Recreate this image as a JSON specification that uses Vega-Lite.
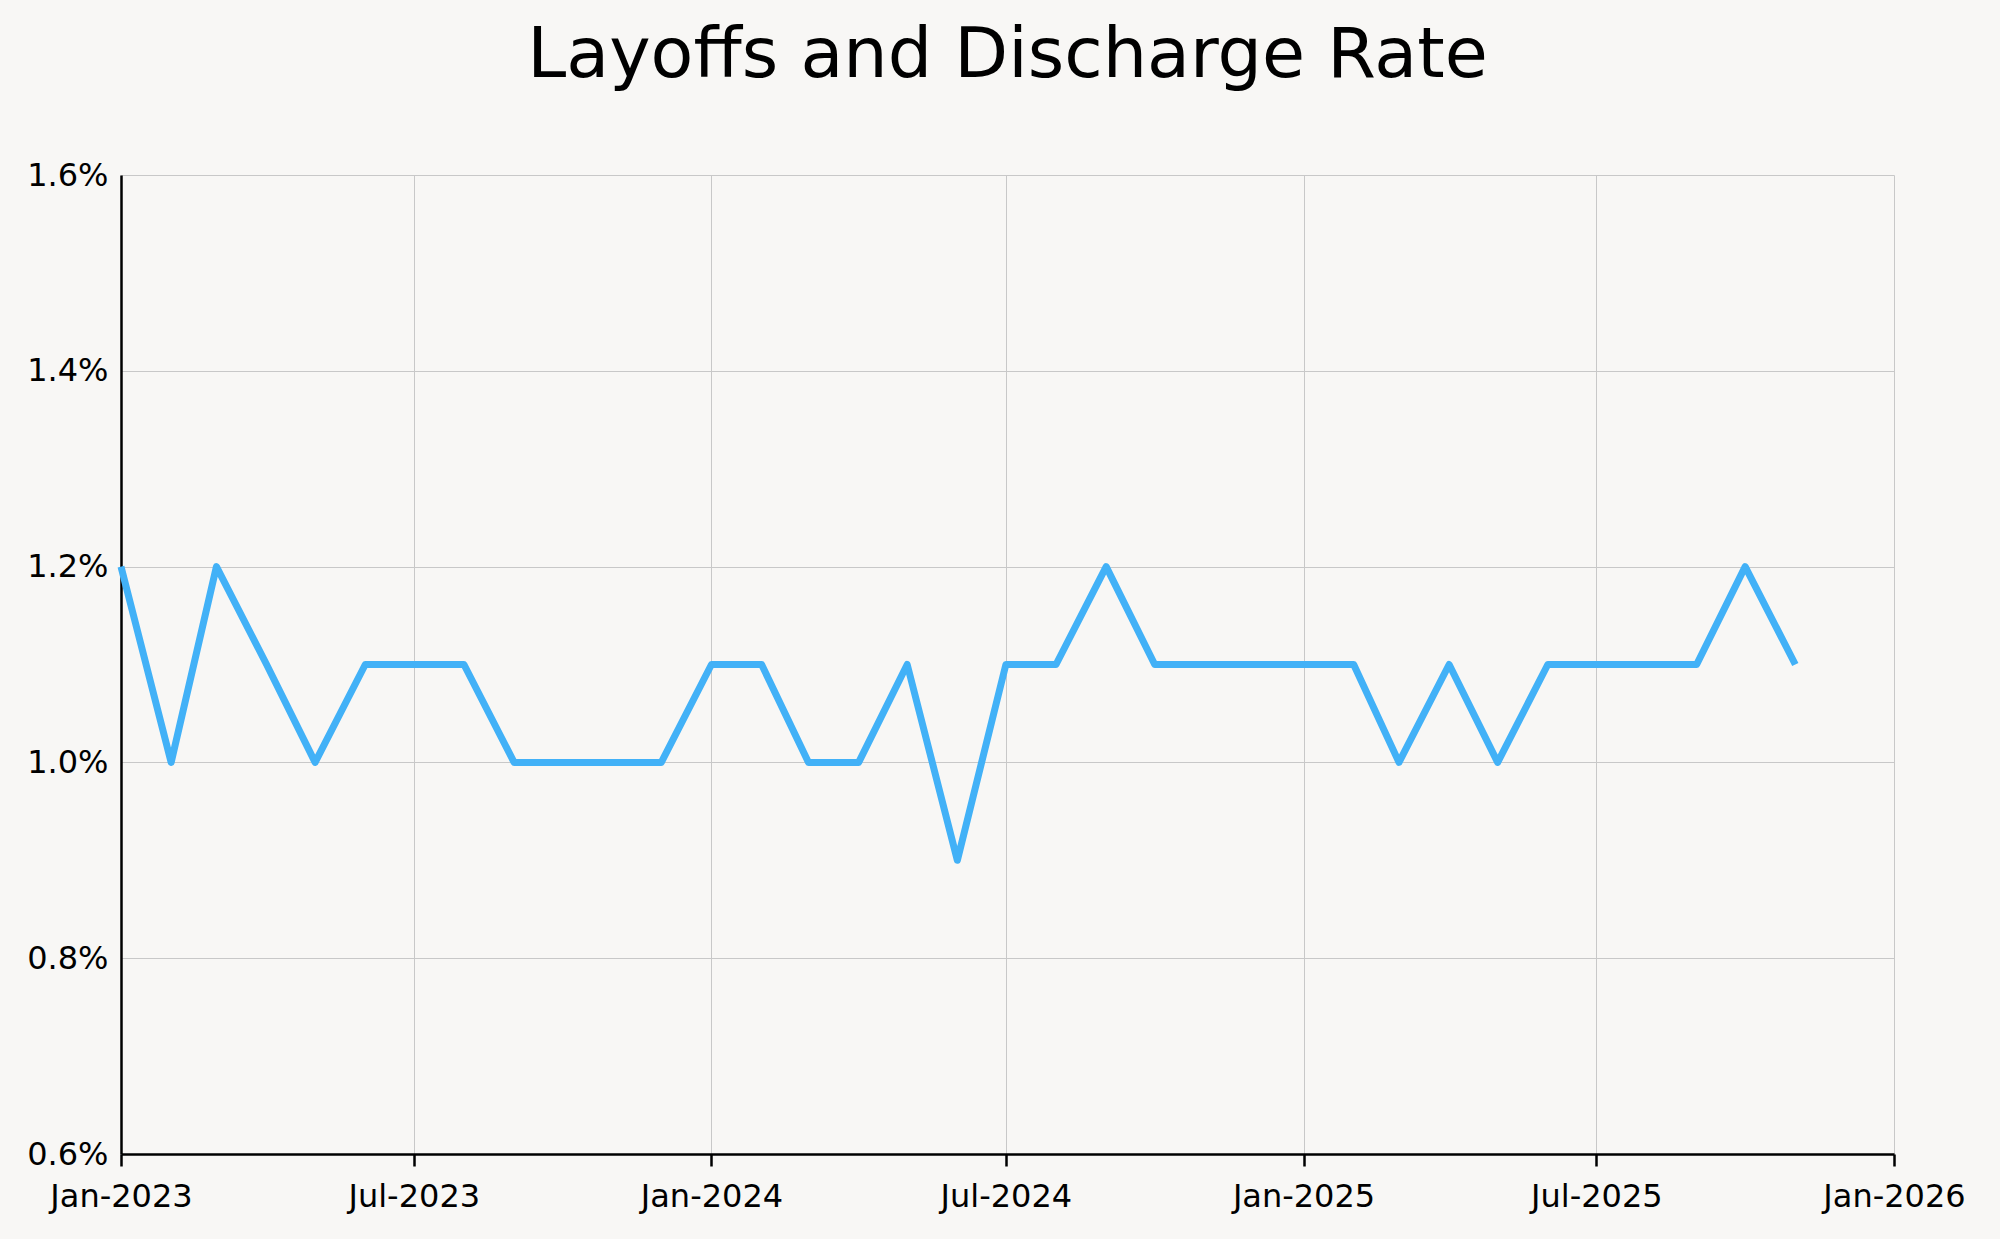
{
  "$schema": "https://vega.github.io/schema/vega-lite/v6.json",
  "autosize": "none",
  "width": 1773,
  "height": 979,
  "padding": {"left": 121, "top": 175, "right": 106, "bottom": 85},
  "background": "#f8f7f5",
  "title": {
    "text": "Layoffs and Discharge Rate",
    "font": "DejaVu Sans",
    "fontSize": 70,
    "fontWeight": "normal",
    "color": "#000000",
    "anchor": "middle",
    "frame": "group",
    "baseline": "alphabetic",
    "offset": 12
  },
  "config": {
    "view": {"stroke": null},
    "axis": {
      "labelFont": "DejaVu Sans",
      "labelFontSize": 32,
      "labelColor": "#000000",
      "gridColor": "#c8c8c8",
      "gridWidth": 1,
      "domainColor": "#000000",
      "domainWidth": 2.5,
      "tickColor": "#000000",
      "tickWidth": 2.5,
      "title": null
    }
  },
  "data": {
    "values": [
      {"date": "2023-01-01T00:00", "rate": 1.2},
      {"date": "2023-02-01T00:00", "rate": 1.0},
      {"date": "2023-03-01T00:00", "rate": 1.2},
      {"date": "2023-04-01T00:00", "rate": 1.1},
      {"date": "2023-05-01T00:00", "rate": 1.0},
      {"date": "2023-06-01T00:00", "rate": 1.1},
      {"date": "2023-07-01T00:00", "rate": 1.1},
      {"date": "2023-08-01T00:00", "rate": 1.1},
      {"date": "2023-09-01T00:00", "rate": 1.0},
      {"date": "2023-10-01T00:00", "rate": 1.0},
      {"date": "2023-11-01T00:00", "rate": 1.0},
      {"date": "2023-12-01T00:00", "rate": 1.0},
      {"date": "2024-01-01T00:00", "rate": 1.1},
      {"date": "2024-02-01T00:00", "rate": 1.1},
      {"date": "2024-03-01T00:00", "rate": 1.0},
      {"date": "2024-04-01T00:00", "rate": 1.0},
      {"date": "2024-05-01T00:00", "rate": 1.1},
      {"date": "2024-06-01T00:00", "rate": 0.9},
      {"date": "2024-07-01T00:00", "rate": 1.1},
      {"date": "2024-08-01T00:00", "rate": 1.1},
      {"date": "2024-09-01T00:00", "rate": 1.2},
      {"date": "2024-10-01T00:00", "rate": 1.1},
      {"date": "2024-11-01T00:00", "rate": 1.1},
      {"date": "2024-12-01T00:00", "rate": 1.1},
      {"date": "2025-01-01T00:00", "rate": 1.1},
      {"date": "2025-02-01T00:00", "rate": 1.1},
      {"date": "2025-03-01T00:00", "rate": 1.0},
      {"date": "2025-04-01T00:00", "rate": 1.1},
      {"date": "2025-05-01T00:00", "rate": 1.0},
      {"date": "2025-06-01T00:00", "rate": 1.1},
      {"date": "2025-07-01T00:00", "rate": 1.1},
      {"date": "2025-08-01T00:00", "rate": 1.1},
      {"date": "2025-09-01T00:00", "rate": 1.1},
      {"date": "2025-10-01T00:00", "rate": 1.2},
      {"date": "2025-11-01T00:00", "rate": 1.1}
    ]
  },
  "mark": {"type": "line", "color": "#42b1f7", "strokeWidth": 7, "strokeJoin": "round"},
  "encoding": {
    "x": {
      "field": "date",
      "type": "temporal",
      "scale": {"domain": [{"year": 2023, "month": 1, "date": 1}, {"year": 2026, "month": 1, "date": 1}]},
      "axis": {
        "values": [
          {"year": 2023, "month": 1, "date": 1},
          {"year": 2023, "month": 7, "date": 1},
          {"year": 2024, "month": 1, "date": 1},
          {"year": 2024, "month": 7, "date": 1},
          {"year": 2025, "month": 1, "date": 1},
          {"year": 2025, "month": 7, "date": 1},
          {"year": 2026, "month": 1, "date": 1}
        ],
        "format": "%b-%Y",
        "labelAlign": "center",
        "tickSize": 12,
        "labelPadding": 15,
        "labelFlush": false,
        "labelOverlap": false
      }
    },
    "y": {
      "field": "rate",
      "type": "quantitative",
      "scale": {"domain": [0.6, 1.6], "nice": false, "zero": false},
      "axis": {
        "values": [0.6, 0.8, 1.0, 1.2, 1.4, 1.6],
        "labelExpr": "format(datum.value, '.1f') + '%'",
        "ticks": false,
        "labelPadding": 13,
        "labelBaseline": "middle"
      }
    }
  }
}
